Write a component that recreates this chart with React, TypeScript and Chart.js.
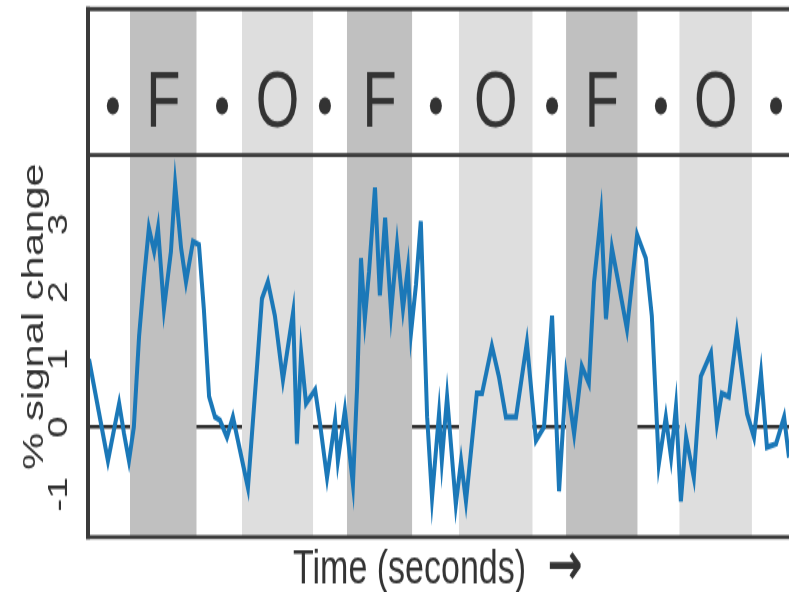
import React, { useEffect, useRef } from 'react';
import { Chart, registerables } from 'chart.js';

Chart.register(...registerables);

// ---- data ----
const TIME = [
  0.3, 5.7, 8.9, 10.3, 11.7, 13.1, 14.6, 16.0, 17.4, 18.9, 20.0, 21.7, 23.7, 24.9, 26.6, 28.0,
  30.0, 31.7, 33.1, 34.6, 36.3, 37.7, 39.7, 41.4, 45.7, 48.3, 49.7, 51.4, 53.4, 55.7, 58.6,
  59.7, 60.9, 62.3, 64.9, 66.3, 68.3, 70.6, 71.4, 73.4, 75.7, 76.9, 78.0, 79.1, 80.3, 82.0,
  83.4, 84.9, 86.6, 88.3, 90.0, 91.4, 92.3, 93.7, 95.1, 96.9, 98.3, 100.3, 101.1, 102.6,
  105.1, 106.6, 108.0, 111.1, 112.6, 115.4, 117.4, 119.4, 122.3, 125.4, 128.0, 130.3, 132.6,
  134.6, 136.6, 138.9, 141.1, 143.1, 144.6, 146.6, 148.0, 149.7, 151.7, 154.0, 156.9, 159.4,
  161.1, 163.1, 165.1, 166.6, 168.0, 169.4, 170.9, 173.1, 175.1, 178.0, 179.7, 181.1, 183.1,
  185.4, 188.3, 190.3, 192.3, 194.0, 196.6, 198.9, 200.3,
];
const SIGNAL = [
  1.0, -0.5, 0.35, -0.1, -0.5, 0.0, 1.35, 2.2, 2.95, 2.6, 2.95, 1.75, 2.6, 3.6, 2.65, 2.15,
  2.75, 2.7, 1.75, 0.45, 0.15, 0.1, -0.15, 0.15, -0.9, 0.9, 1.9, 2.15, 1.65, 0.7, 1.7,
  -0.25, 1.1, 0.35, 0.55, 0.05, -0.75, 0.1, -0.5, 0.25, -0.85, 0.6, 2.5, 1.6, 2.3, 3.55,
  1.95, 3.1, 1.7, 2.7, 1.75, 2.35, 1.4, 2.1, 3.05, 0.15, -1.05, 0.2, -0.5, 0.45,
  -1.15, -0.5, -1.1, 0.5, 0.5, 1.2, 0.75, 0.15, 0.15, 1.25, -0.2, 0.0, 1.65,
  -0.95, 0.75, -0.1, 0.9, 0.65, 2.15, 3.15, 1.6, 2.65, 2.1, 1.45, 2.85, 2.5,
  1.65, -0.55, 0.15, -0.45, 0.3, -1.1, -0.15, -0.75, 0.75, 1.1, 0.05, 0.5, 0.45,
  1.4, 0.2, -0.15, 0.8, -0.3, -0.25, 0.15, -0.45,
];
const Y_TICKS = [-1, 0, 1, 2, 3];
const Y_TICK_LABELS = ['-1', '0', '1', '2', '3'];
const CONDITIONS = ['F', 'O', 'F', 'O', 'F', 'O'];
const BLOCK_START = [12, 44, 74, 106, 136.6, 169];
const BLOCK_END = [31, 64.3, 92.6, 127, 157, 189.7];
const DOT_TIMES = [7.1, 38.3, 67.7, 99.4, 132.6, 163.7, 196.6];
const Y_TITLE = '% signal change';
const X_TITLE = 'Time (seconds)';
const X_ARROW = '\u2192';

// ---- layout (canvas buffer is stretched vertically to the page) ----
const W = 789;
const H = 411;
const SY = 592 / H;
const FRAME_TOP = 9 / SY;
const PANEL_TOP = 155 / SY;
const PANEL_BOTTOM = 537 / SY;
const FONT = '"Liberation Sans", Arial, Helvetica, sans-serif';
const INK = '#333333';

const headerPlugin = {
  id: 'fofHeader',
  beforeDatasetsDraw(chart: any) {
    const { ctx, chartArea, scales } = chart;
    const x = scales.x;
    ctx.save();
    BLOCK_START.forEach((s: number, i: number) => {
      const x0 = x.getPixelForValue(s);
      const x1 = x.getPixelForValue(BLOCK_END[i]);
      ctx.fillStyle = CONDITIONS[i] === 'F' ? '#c0c0c0' : '#dedede';
      ctx.fillRect(x0, FRAME_TOP, x1 - x0, chartArea.bottom - FRAME_TOP);
    });
    ctx.restore();
  },
  afterDraw(chart: any) {
    const { ctx, chartArea, scales } = chart;
    const x = scales.x;
    const { left, right, top, bottom } = chartArea;
    ctx.save();
    // frame
    ctx.strokeStyle = '#3a3a3a';
    ctx.lineWidth = 2.8;
    [FRAME_TOP, top, bottom].forEach((yy) => {
      ctx.beginPath();
      ctx.moveTo(left - 2, yy);
      ctx.lineTo(right + 10, yy);
      ctx.stroke();
    });
    ctx.lineWidth = 4;
    ctx.beginPath();
    ctx.moveTo(left, FRAME_TOP - 1.4);
    ctx.lineTo(left, bottom + 1.4);
    ctx.stroke();

    // header letters
    ctx.fillStyle = INK;
    ctx.font = `56px ${FONT}`;
    ctx.textAlign = 'center';
    ctx.textBaseline = 'alphabetic';
    CONDITIONS.forEach((c: string, i: number) => {
      const cx = x.getPixelForValue((BLOCK_START[i] + BLOCK_END[i]) / 2);
      ctx.fillText(c, cx, 127 / SY);
    });
    DOT_TIMES.forEach((t: number) => {
      ctx.beginPath();
      ctx.arc(x.getPixelForValue(t), 106 / SY, 6, 0, Math.PI * 2);
      ctx.fill();
    });

    // x title with arrow
    ctx.font = `34px ${FONT}`;
    ctx.textAlign = 'left';
    ctx.textBaseline = 'alphabetic';
    ctx.fillText(X_TITLE, 293, 583 / SY);
    ctx.font = `bold 42px "DejaVu Sans", sans-serif`;
    ctx.textAlign = 'center';
    ctx.textBaseline = 'middle';
    ctx.fillText(X_ARROW, 565, 569 / SY);

    // y title
    ctx.font = `29px ${FONT}`;
    ctx.textAlign = 'center';
    ctx.textBaseline = 'alphabetic';
    ctx.translate(43, 316.5 / SY);
    ctx.rotate(-Math.PI / 2);
    ctx.fillText(Y_TITLE, 0, 0);
    ctx.restore();
  },
};

export default function App() {
  const ref = useRef<HTMLCanvasElement>(null);
  useEffect(() => {
    document.body.style.margin = '0';
    document.body.style.overflow = 'hidden';
    const chart = new Chart(ref.current as HTMLCanvasElement, {
      type: 'line',
      data: {
        datasets: [
          {
            label: Y_TITLE,
            data: TIME.map((t, i) => ({ x: t, y: SIGNAL[i] })),
            borderColor: '#1b78b8',
            borderWidth: 4,
            pointRadius: 0,
            tension: 0,
            fill: false,
          },
        ],
      },
      options: {
        responsive: false,
        devicePixelRatio: 1,
        animation: false,
        events: [],
        layout: { padding: { top: PANEL_TOP, left: 0, right: 0, bottom: 0 } },
        plugins: { legend: { display: false }, tooltip: { enabled: false } },
        scales: {
          x: {
            type: 'linear',
            min: 0,
            max: 200.3,
            ticks: { display: false },
            grid: { display: false },
            border: { display: false },
            title: { display: false, text: X_TITLE },
            afterFit: (s: any) => {
              s.height = H - PANEL_BOTTOM;
            },
          },
          y: {
            type: 'linear',
            min: -(537 - 427) / 67.5,
            max: (427 - 155) / 67.5,
            z: 1,
            afterBuildTicks: (s: any) => {
              s.ticks = Y_TICKS.map((v) => ({ value: v }));
            },
            ticks: {
              autoSkip: false,
              minRotation: 90,
              maxRotation: 90,
              crossAlign: 'center',
              padding: 16,
              color: INK,
              font: { family: FONT, size: 27 },
              callback: (v: any) => {
                const i = Y_TICKS.indexOf(Number(v));
                return i >= 0 ? Y_TICK_LABELS[i] : '';
              },
            },
            grid: {
              drawTicks: false,
              color: (c: any) => (c.tick && c.tick.value === 0 ? '#2b2b2b' : 'rgba(0,0,0,0)'),
              lineWidth: 2.4,
            },
            border: { display: false },
            afterFit: (s: any) => {
              s.width = 88;
            },
          },
        },
      },
      plugins: [headerPlugin],
    } as any);
    return () => chart.destroy();
  }, []);
  return (
    <canvas
      ref={ref}
      width={W}
      height={H}
      style={{ width: `${W}px`, height: '592px', display: 'block' }}
    />
  );
}
